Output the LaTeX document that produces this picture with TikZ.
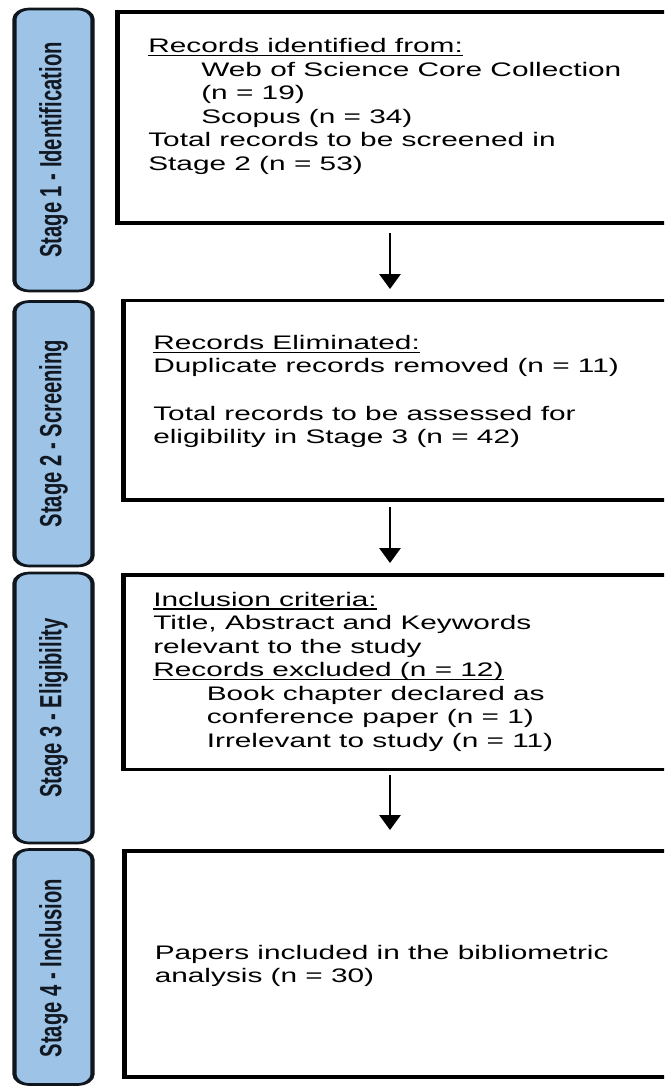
\documentclass[tikz,border=0pt]{standalone}
\usepackage{fontspec}
\setmainfont{Liberation Sans}
\usetikzlibrary{arrows.meta,fit}
\definecolor{barfill}{RGB}{157,195,230}
\definecolor{barline}{RGB}{16,22,30}
\definecolor{stagetext}{RGB}{18,24,34}
\tikzset{
  stagebar/.style={draw=barline, fill=barfill, line width=2.7pt, rounded corners=10pt, inner sep=0pt},
  flowbox/.style={draw=black, line width=3.2pt, inner sep=0pt},
  txt/.style={anchor=base west, inner sep=0pt, font=\fontsize{19.6}{23.5}\selectfont},
  stagetxt/.style={rotate=90, anchor=base, inner sep=0pt, text=stagetext, font=\fontsize{20.2}{24}\selectfont\bfseries},
  arr/.style={line width=1.3pt, -{Triangle[width=14pt,length=15pt]}},
  ul/.style={line width=1.4pt}
}
\newcommand\tl[4]{\node[txt] (#1) at (#2,#3) {#4};}
\newcommand\ulnode[1]{\draw[ul] ([yshift=-3pt]#1.base west) -- ([yshift=-3pt]#1.base east);}
\begin{document}
\begin{tikzpicture}[x=1pt,y=-1pt]
\useasboundingbox (0,0) rectangle (664,1086);
\clip (0,0) rectangle (664,1086);
\fill[white] (0,0) rectangle (664,1086);
\begin{scope}[x=0.65789pt, transform canvas={xscale=1.52}]
  % stage bars
  \node[stagebar, fit={(14.5,9) (92.5,291)}] (s1) {};
  \node[stagebar, fit={(14.5,301.5) (92.5,566)}] (s2) {};
  \node[stagebar, fit={(14.5,573) (92.5,843)}] (s3) {};
  \node[stagebar, fit={(14.5,849.5) (92.5,1084.5)}] (s4) {};
  \node[stagetxt] (s1t) at (61.5,150) {Stage 1 - Identification};
  \node[stagetxt] (s2t) at (61.5,433.5) {Stage 2 - Screening};
  \node[stagetxt] (s3t) at (61.5,708) {Stage 3 - Eligibility};
  \node[stagetxt] (s4t) at (61.5,968) {Stage 4 - Inclusion};
  % boxes
  \node[flowbox, fit={(117.5,12) (700,223)}] (b1) {};
  \node[flowbox, fit={(123.5,300.5) (700,500)}] (b2) {};
  \node[flowbox, fit={(123.5,575) (700,769.5)}] (b3) {};
  \node[flowbox, fit={(124.5,851) (700,1077)}] (b4) {};
  % arrows
  \coordinate (a1s) at (390,233);   \coordinate (a1e) at (390,289);
  \coordinate (a2s) at (390,507);   \coordinate (a2e) at (390,563);
  \coordinate (a3s) at (390,775);   \coordinate (a3e) at (390,830);
  \draw[arr] (a1s) -- (a1e);
  \draw[arr] (a2s) -- (a2e);
  \draw[arr] (a3s) -- (a3e);
  % box 1 text
  \tl{t11}{148}{52.5}{Records identified from:}
  \tl{t12}{201}{76.1}{Web of Science Core Collection}
  \tl{t13}{201}{99.7}{(n = 19)}
  \tl{t14}{201}{123.3}{Scopus (n = 34)}
  \tl{t15}{148}{146.9}{Total records to be screened in}
  \tl{t16}{148}{170.5}{Stage 2 (n = 53)}
  \ulnode{t11}
  % box 2 text
  \tl{t21}{153}{349.3}{Records Eliminated:}
  \tl{t22}{153}{372.7}{Duplicate records removed (n = 11)}
  \tl{t23}{153}{420}{Total records to be assessed for}
  \tl{t24}{153}{443.5}{eligibility in Stage 3 (n = 42)}
  \ulnode{t21}
  % box 3 text
  \tl{t31}{153}{606}{Inclusion criteria:}
  \tl{t32}{153}{629.5}{Title, Abstract and Keywords}
  \tl{t33}{153}{653}{relevant to the study}
  \tl{t34}{153}{676.5}{Records excluded (n = 12)}
  \tl{t35}{206.5}{700}{Book chapter declared as}
  \tl{t36}{206.5}{723.5}{conference paper (n = 1)}
  \tl{t37}{206.5}{747}{Irrelevant to study (n = 11)}
  \ulnode{t31}
  \ulnode{t34}
  % box 4 text
  \tl{t41}{154.5}{959.3}{Papers included in the bibliometric}
  \tl{t42}{154.5}{982.7}{analysis (n = 30)}
\end{scope}
\end{tikzpicture}
\end{document}
